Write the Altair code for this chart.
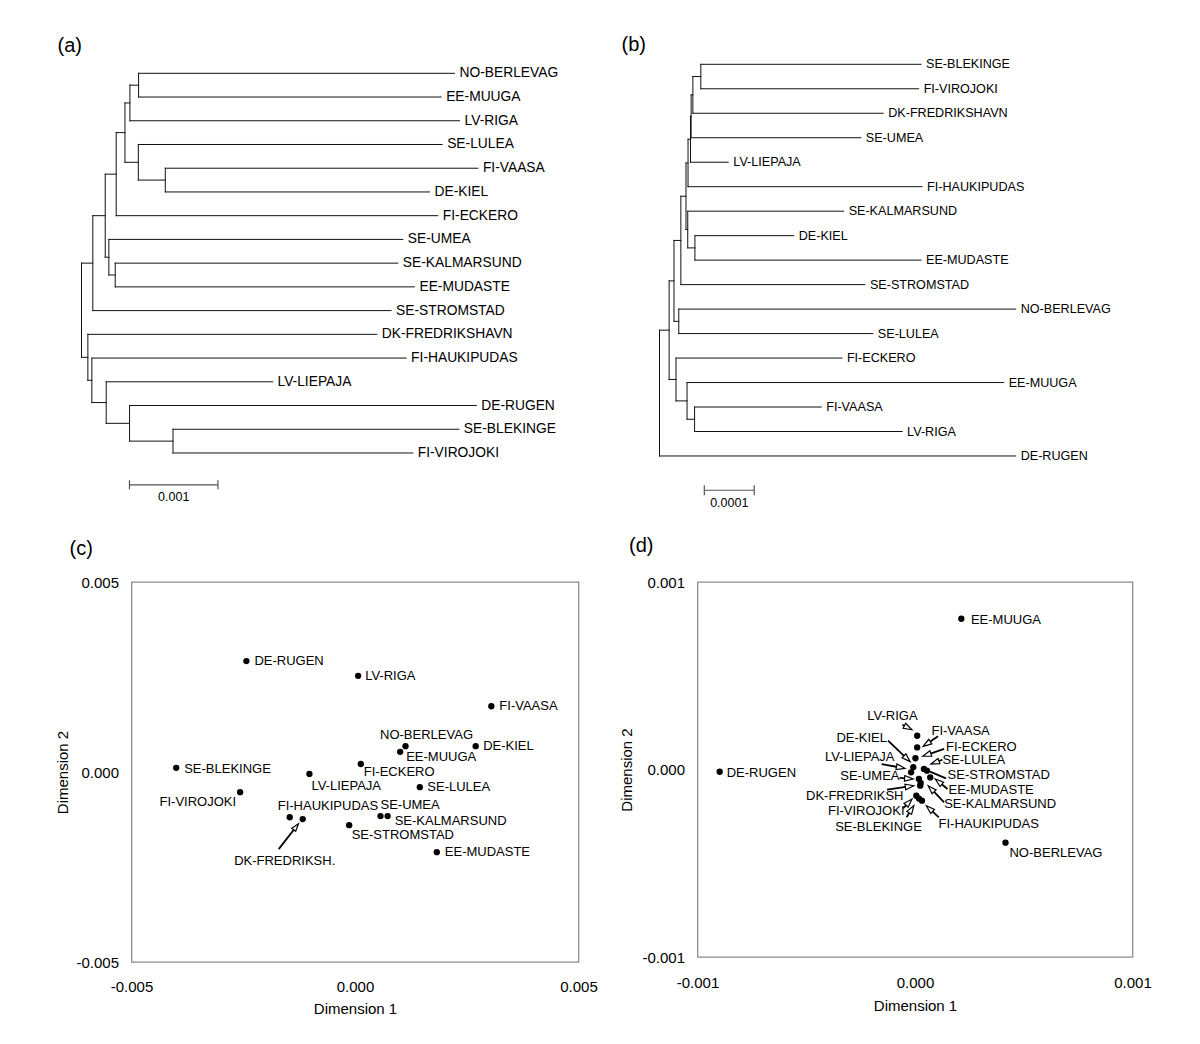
import math
import altair as alt
import pandas as pd

FONT = "Liberation Sans"
INK = "#111111"

# ---------------- (a) dendrogram: depths in units of 0.001 ----------------
a_nodes = ["r", "A", "B", "A1", "A1a", "A1b", "A1a1", "A1a1a", "A1a1b", "NE", "VK", "KM", "B1", "B2", "B3", "BV"]
a_node_parent = [None, "r", "r", "A", "A1", "A1", "A1a", "A1a1", "A1a1", "A1a1a", "A1a1b", "A1b", "B", "B1", "B2", "B3"]
a_node_depth = [0.0, 0.128, 0.072, 0.268, 0.392, 0.309, 0.491, 0.547, 0.642, 0.645, 0.947, 0.381, 0.117, 0.279, 0.543, 1.034]
a_leaves = ["NO-BERLEVAG", "EE-MUUGA", "LV-RIGA", "SE-LULEA", "FI-VAASA", "DE-KIEL", "FI-ECKERO", "SE-UMEA",
            "SE-KALMARSUND", "EE-MUDASTE", "SE-STROMSTAD", "DK-FREDRIKSHAVN", "FI-HAUKIPUDAS", "LV-LIEPAJA",
            "DE-RUGEN", "SE-BLEKINGE", "FI-VIROJOKI"]
a_leaf_parent = ["NE", "NE", "A1a1a", "A1a1b", "VK", "VK", "A1a", "A1b", "KM", "KM", "A", "B", "B1", "B2", "B3", "BV", "BV"]
a_leaf_depth = [4.215, 4.064, 4.272, 4.075, 4.479, 3.932, 4.026, 3.630, 3.574, 3.762, 3.498, 3.336, 3.668, 2.158, 4.460, 4.264, 3.743]
a_unit = 0.001

# ---------------- (b) dendrogram: depths in units of 0.0001 ----------------
b_nodes = ["r", "X", "Y", "Z", "Y1", "NS", "Y2", "Y3", "Y3a", "Y3b", "Y3c", "BV", "Y4", "KM", "Z1", "VR"]
b_node_parent = [None, "r", "X", "X", "Y", "Y", "Y1", "Y2", "Y3", "Y3a", "Y3b", "Y3c", "Y2", "Y4", "Z", "Z1"]
b_node_depth = [0.0, 0.193, 0.290, 0.331, 0.428, 0.386, 0.531, 0.572, 0.621, 0.634, 0.669, 0.828, 0.566, 0.710, 0.552, 0.703]
b_leaves = ["SE-BLEKINGE", "FI-VIROJOKI", "DK-FREDRIKSHAVN", "SE-UMEA", "LV-LIEPAJA", "FI-HAUKIPUDAS",
            "SE-KALMARSUND", "DE-KIEL", "EE-MUDASTE", "SE-STROMSTAD", "NO-BERLEVAG", "SE-LULEA", "FI-ECKERO",
            "EE-MUUGA", "FI-VAASA", "LV-RIGA", "DE-RUGEN"]
b_leaf_parent = ["BV", "BV", "Y3c", "Y3b", "Y3a", "Y3", "Y4", "KM", "KM", "Y1", "NS", "NS", "Z", "Z1", "VR", "VR", "r"]
b_leaf_depth = [5.241, 5.193, 4.483, 4.034, 1.379, 5.262, 3.690, 2.690, 5.241, 4.117, 7.138, 4.276, 3.655, 6.897, 3.241, 4.862, 7.138]
b_unit = 0.0001

# ---------------- (c) MDS coordinates (x 0.001) ----------------
c_names = ["DE-RUGEN", "LV-RIGA", "FI-VAASA", "NO-BERLEVAG", "DE-KIEL", "EE-MUUGA", "FI-ECKERO", "SE-BLEKINGE",
           "LV-LIEPAJA", "SE-LULEA", "FI-VIROJOKI", "FI-HAUKIPUDAS", "DK-FREDRIKSH.", "SE-UMEA", "SE-KALMARSUND",
           "SE-STROMSTAD", "EE-MUDASTE"]
c_dim1 = [-2.43, 0.07, 3.05, 1.13, 2.70, 1.01, 0.13, -4.00, -1.02, 1.45, -2.57, -1.46, -1.17, 0.57, 0.73, -0.13, 1.83]
c_dim2 = [2.92, 2.53, 1.73, 0.68, 0.68, 0.53, 0.21, 0.11, -0.05, -0.40, -0.53, -1.19, -1.24, -1.16, -1.16, -1.40, -2.11]

# ---------------- (d) MDS coordinates (x 0.001) ----------------
d_names = ["EE-MUUGA", "DE-RUGEN", "NO-BERLEVAG", "LV-RIGA", "FI-VAASA", "FI-ECKERO", "DE-KIEL", "LV-LIEPAJA",
           "SE-LULEA", "SE-STROMSTAD", "EE-MUDASTE", "SE-UMEA", "DK-FREDRIKSH", "SE-KALMARSUND", "FI-VIROJOKI",
           "SE-BLEKINGE", "FI-HAUKIPUDAS"]
d_dim1 = [0.213, -0.898, 0.416, 0.010, 0.010, 0.002, -0.008, -0.018, 0.041, 0.055, 0.070, 0.018, 0.024, 0.026, 0.006, 0.018, 0.032]
d_dim2 = [0.804, -0.012, -0.390, 0.180, 0.118, 0.060, 0.012, -0.015, 0.003, -0.006, -0.042, -0.050, -0.086, -0.072, -0.140, -0.155, -0.166]

# label placement (pixel offsets from the point): dx, dy, align
c_label_pos = {
    "DE-RUGEN": (8, 0, "left"), "LV-RIGA": (7, 0, "left"), "FI-VAASA": (8, 0, "left"),
    "NO-BERLEVAG": (21, -11, "center"), "DE-KIEL": (7.5, 0, "left"), "EE-MUUGA": (6, 5, "left"),
    "FI-ECKERO": (3, 8, "left"), "SE-BLEKINGE": (8, 1, "left"), "LV-LIEPAJA": (2, 12, "left"),
    "SE-LULEA": (7.5, 0, "left"), "FI-VIROJOKI": (-4, 10, "right"), "FI-HAUKIPUDAS": (-12, -11, "left"),
    "SE-UMEA": (0, -11, "left"), "SE-KALMARSUND": (7, 5, "left"), "SE-STROMSTAD": (2.5, 10, "left"),
    "EE-MUDASTE": (8, 0, "left"), "DK-FREDRIKSH.": (-18, 42, "center"),
}
# arrows: tail dx, dy, head dx, dy, draw head
c_arrows = {"DK-FREDRIKSH.": (-24, 30, -4.3, 4.7, True)}

d_label_pos = {
    "EE-MUUGA": (9.6, 1, "left"), "DE-RUGEN": (7, 1, "left"), "NO-BERLEVAG": (4, 10, "left"),
    "LV-RIGA": (-24.7, -19.7, "center"), "FI-VAASA": (14.3, -16.7, "left"), "FI-ECKERO": (30.5, -11.5, "left"),
    "DE-KIEL": (-26.3, -29.3, "right"), "LV-LIEPAJA": (-16.6, -15.6, "right"), "SE-LULEA": (18.5, -9, "left"),
    "SE-STROMSTAD": (20.6, 4.2, "left"), "EE-MUDASTE": (18.3, 12.6, "left"), "SE-UMEA": (-19.4, -2.6, "right"),
    "DK-FREDRIKSH": (-16.7, 10.7, "right"), "SE-KALMARSUND": (23.5, 21, "left"),
    "FI-VIROJOKI": (-11.8, 15.6, "right"), "SE-BLEKINGE": (-40.4, 28.7, "center"),
    "FI-HAUKIPUDAS": (16.6, 23.4, "left"),
}
d_arrows = {
    "LV-RIGA": (-14.8, -11, -5.2, -6, True), "FI-VAASA": (20.9, -11.1, 6, -1, True),
    "FI-ECKERO": (28.7, -9.3, 7.3, -2, True), "DE-KIEL": (-25.2, -26.6, -3.1, -5.6, True),
    "LV-LIEPAJA": (-29.5, -8.3, -6.2, -4, True), "SE-LULEA": (18.5, -9.2, 7, -4.9, True),
    "SE-STROMSTAD": (19, 7.7, 3, 1, False), "EE-MUDASTE": (17.3, 11.6, 5, 1.6, True),
    "SE-UMEA": (-19.4, -0.9, -5.8, 0.1, True), "DK-FREDRIKSH": (-33.2, 4.1, -6.4, 0.1, True),
    "SE-KALMARSUND": (23.5, 19.3, 7.5, 2.7, True), "FI-VIROJOKI": (-13.2, 12.6, -4.3, 3.3, True),
    "SE-BLEKINGE": (-12.4, 18.7, -5.1, 7.1, True), "FI-HAUKIPUDAS": (16.9, 16.7, 4.4, 5.1, True),
}


def tree_frames(nodes, node_parent, node_depth, leaves, leaf_parent, leaf_depth, unit):
    parent = dict(zip(nodes, node_parent))
    parent.update(zip(leaves, leaf_parent))
    depth = {n: d * unit for n, d in zip(nodes, node_depth)}
    depth.update({n: d * unit for n, d in zip(leaves, leaf_depth)})
    children = {}
    for n in nodes + leaves:
        p = parent[n]
        if p is not None:
            children.setdefault(p, []).append(n)
    ypos = {leaf: float(i) for i, leaf in enumerate(leaves)}

    def y_of(n):
        if n not in ypos:
            ys = [y_of(c) for c in children[n]]
            ypos[n] = (min(ys) + max(ys)) / 2
        return ypos[n]

    segs = []
    for n in nodes + leaves:
        y = y_of(n)
        p = parent[n]
        if p is not None:
            segs.append(dict(x=depth[p], x2=depth[n], y=y, y2=y))
        if n in children:
            ys = [y_of(c) for c in children[n]]
            segs.append(dict(x=depth[n], x2=depth[n], y=min(ys), y2=max(ys)))
    leaf_df = pd.DataFrame(dict(name=leaves, x=[depth[l] for l in leaves], y=[ypos[l] for l in leaves]))
    return pd.DataFrame(segs), leaf_df


def tree_chart(frames, unit, title, title_dx, width, height, root_px, unit_px, row0_px, row_px,
               bar_start, bar_row, bar_label_row, bar_text, font_size, tick_half):
    segs, leaf_df = frames
    px_per = unit_px / unit
    xs = alt.Scale(domain=[-root_px / px_per, (width - root_px) / px_per], nice=False, zero=False)
    ys = alt.Scale(domain=[-row0_px / row_px, (height - row0_px) / row_px], nice=False, zero=False, reverse=True)
    X = lambda f: alt.X(f, type="quantitative", scale=xs, axis=None)
    Y = lambda f: alt.Y(f, type="quantitative", scale=ys, axis=None)
    lines = alt.Chart(segs).mark_rule(color=INK, strokeWidth=1, strokeCap="square").encode(
        x=X("x"), x2="x2", y=Y("y"), y2="y2")
    labels = alt.Chart(leaf_df).mark_text(align="left", baseline="middle", dx=5, font=FONT,
                                          fontSize=font_size, color="black").encode(
        x=X("x"), y=Y("y"), text="name:N")
    b0 = bar_start * unit
    b1 = (bar_start + 1) * unit
    bar_df = pd.DataFrame([
        dict(x=b0, x2=b1, y=bar_row, y2=bar_row),
        dict(x=b0, x2=b0, y=bar_row - tick_half, y2=bar_row + tick_half),
        dict(x=b1, x2=b1, y=bar_row - tick_half, y2=bar_row + tick_half),
    ])
    bar = alt.Chart(bar_df).mark_rule(color="#555555", strokeWidth=1.2).encode(
        x=X("x"), x2="x2", y=Y("y"), y2="y2")
    bar_lab = alt.Chart(pd.DataFrame([dict(x=(b0 + b1) / 2, y=bar_label_row, t=bar_text)])).mark_text(
        align="center", baseline="middle", font=FONT, fontSize=12.5, color="black").encode(
        x=X("x"), y=Y("y"), text="t:N")
    return alt.layer(lines, labels, bar, bar_lab).properties(
        width=width, height=height,
        view=alt.ViewBackground(stroke="transparent"),
        title=alt.TitleParams(title, anchor="start", frame="group", fontSize=20, font=FONT,
                              fontWeight="normal", color="black", offset=3, dx=title_dx),
    )


def scatter_chart(names, d1, d2, unit, label_pos, arrows, dom, width, height, title, toff, tdx,
                  xlab_pad, xtit_pad, ylab_pad, ytit_pad, head_size=64):
    ppx = width / (2 * dom)
    ppy = height / (2 * dom)
    xs = [v * unit for v in d1]
    ys = [v * unit for v in d2]
    pts = pd.DataFrame(dict(name=names, x=xs, y=ys))
    lab_rows = []
    for n, x, y in zip(names, xs, ys):
        dx, dy, al = label_pos[n]
        lab_rows.append(dict(name=n, x=x + dx / ppx, y=y - dy / ppy, align=al))
    labs = pd.DataFrame(lab_rows)
    arr_rows, head_rows = [], []
    half = math.sqrt(head_size) / 2
    for n, x, y in zip(names, xs, ys):
        if n not in arrows:
            continue
        tdx_, tdy_, hdx, hdy, has_head = arrows[n]
        vx, vy = hdx - tdx_, hdy - tdy_
        L = math.hypot(vx, vy)
        ux, uy = vx / L, vy / L
        if has_head:
            cx, cy = hdx - ux * half, hdy - uy * half
        else:
            cx, cy = hdx, hdy
        arr_rows.append(dict(x=x + tdx_ / ppx, y=y - tdy_ / ppy, x2=x + cx / ppx, y2=y - cy / ppy))
        if has_head:
            ang = math.degrees(math.atan2(vx, -vy)) % 360
            head_rows.append(dict(x=x + cx / ppx, y=y - cy / ppy, ang=ang))
    sx = alt.Scale(domain=[-dom, dom], nice=False, zero=False)
    sy = alt.Scale(domain=[-dom, dom], nice=False, zero=False)
    fmt = "replace(format(datum.value, '.3f'), '\u2212', '-')"
    common = dict(values=[-dom, 0, dom], labelExpr=fmt, ticks=False, domain=False, grid=False,
                  labelFont=FONT, titleFont=FONT, labelFontSize=15, titleFontSize=15,
                  titleFontWeight="normal", labelColor="black", titleColor="black",
                  labelFlush=False, labelOverlap=False, labelBound=False)
    ax_x = alt.Axis(title="Dimension 1", labelPadding=xlab_pad, titlePadding=xtit_pad, **common)
    ax_y = alt.Axis(title="Dimension 2", labelPadding=ylab_pad, titlePadding=ytit_pad, **common)
    X = lambda f: alt.X(f, type="quantitative", scale=sx, axis=ax_x)
    Y = lambda f: alt.Y(f, type="quantitative", scale=sy, axis=ax_y)
    layers = []
    if arr_rows:
        layers.append(alt.Chart(pd.DataFrame(arr_rows)).mark_rule(color="black", strokeWidth=1.8).encode(
            x=X("x"), y=Y("y"), x2="x2", y2="y2"))
    if head_rows:
        layers.append(alt.Chart(pd.DataFrame(head_rows)).mark_point(
            shape="M0,-1L0.62,0.9L-0.62,0.9Z", filled=True, fill="white", stroke="black",
            strokeWidth=1.2, size=head_size, opacity=1).encode(
            x=X("x"), y=Y("y"), angle=alt.Angle("ang:Q", scale=None)))
    layers.append(alt.Chart(pts).mark_circle(size=40, color="black", opacity=1).encode(x=X("x"), y=Y("y")))
    for al in ["left", "center", "right"]:
        sub = labs[labs["align"] == al]
        if len(sub):
            layers.append(alt.Chart(sub).mark_text(align=al, baseline="middle", font=FONT, fontSize=13,
                                                   color="black").encode(x=X("x"), y=Y("y"), text="name:N"))
    return alt.layer(*layers).properties(
        width=width, height=height,
        view=alt.ViewBackground(stroke="#8c8c8c", strokeWidth=1.3),
        title=alt.TitleParams(title, anchor="start", fontSize=20, font=FONT, fontWeight="normal",
                              color="black", offset=toff, dx=tdx),
    )


chart_a = tree_chart(tree_frames(a_nodes, a_node_parent, a_node_depth, a_leaves, a_leaf_parent, a_leaf_depth, a_unit),
                     a_unit, "(a)", -74, 472, 454, -50, 88.5, 14.3, 23.73,
                     0.542, 17.34, 17.84, "0.001", 13.8, 0.19)
chart_b = tree_chart(tree_frames(b_nodes, b_node_parent, b_node_depth, b_leaves, b_leaf_parent, b_leaf_depth, b_unit),
                     b_unit, "(b)", -3, 508, 454, 35, 49.9, 5.3, 24.48,
                     0.898, 17.40, 17.92, "0.0001", 12.6, 0.2)
chart_c = scatter_chart(c_names, c_dim1, c_dim2, 0.001, c_label_pos, c_arrows, 0.005, 447, 380, "(c)", 16, 13.5,
                        17, 7, 13, 5)
chart_d = scatter_chart(d_names, d_dim1, d_dim2, 0.001, d_label_pos, d_arrows, 0.001, 435, 375, "(d)", 19, 9,
                        18, 8, 13, 7, head_size=81)

top = alt.hconcat(chart_a, chart_b, spacing=16)
bottom = alt.hconcat(chart_c, chart_d, spacing=20)
chart = alt.vconcat(top, bottom, spacing=21).properties(
    padding={"left": 46.5, "top": 26, "right": 0, "bottom": 0}
).configure_view(stroke=None).configure(font=FONT)

chart.save("out.html", embed_options={"renderer": "svg", "actions": False})
